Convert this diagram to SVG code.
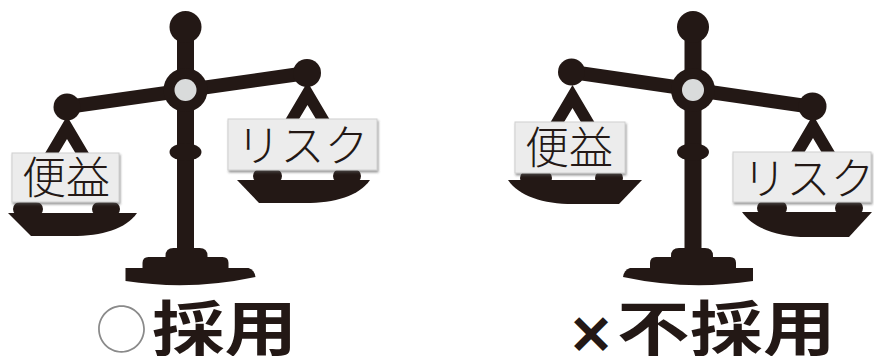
<svg xmlns="http://www.w3.org/2000/svg" width="874" height="356" viewBox="0 0 874 356">
<style>
.ink{fill:#231815}
.beam{stroke:#231815;stroke-width:14;fill:none}
.sign{fill:#ececec;stroke:#d0d0d0;stroke-width:1;filter:url(#shadow)}
.sign-text{font-family:"Noto Sans CJK JP",sans-serif;font-size:44px;font-weight:300;fill:#231815;text-anchor:middle}
.verdict{font-family:"Noto Sans CJK JP",sans-serif;font-size:60px;font-weight:700;fill:#231815}
.cross{font-size:46px;stroke:#231815;stroke-width:2.6;stroke-linejoin:miter;text-anchor:middle}
.ring{font-family:"Noto Sans CJK JP",sans-serif;font-size:52px;font-weight:300;fill:#8a8a8a;text-anchor:middle}
</style>
<defs>
  <filter id="shadow" x="-10%" y="-10%" width="130%" height="150%">
    <feDropShadow dx="1" dy="2" stdDeviation="1.2" flood-color="#555555" flood-opacity="0.6"/>
  </filter>
  <!-- post, knobs, stepped foot and pivot, drawn around x = 0 -->
  <g id="stand">
    <rect class="ink" x="-8.5" y="25" width="17" height="228"/>
    <circle class="ink" cx="0" cy="27" r="16"/>
    <ellipse class="ink" cx="0" cy="152" rx="16" ry="9"/>
    <path class="ink" d="M-20,259 V256 Q-20,248 -12,248 H14 Q22,248 22,256 V259 Z"/>
    <path class="ink" d="M-43,269 V263 Q-43,257 -37,257 H37 Q43,257 43,263 V269 Z"/>
    <path class="ink" d="M-60,268 H63 Q69,270 70,277 Q5,291 -60,281 Z"/>
    <circle class="ink" cx="0" cy="90" r="22"/>
    <circle cx="0" cy="90" r="11" fill="#d9dbdb"/>
  </g>
  <!-- A-shaped hanger; origin at the top edge of the sign it carries -->
  <path id="hanger" class="ink" fill-rule="evenodd" d="M0,-37 L-26,7 L26,7 Z M0,-14 L12.6,7 L-12.6,7 Z"/>
</defs>

<g id="scale-adopted">
  <use href="#hanger" x="67" y="153"/>
  <use href="#hanger" x="307.5" y="119"/>
  <line class="beam" x1="67" y1="107" x2="307" y2="73"/>
  <use href="#stand" x="185.5"/>
  <circle class="ink" cx="67" cy="107" r="13.5"/>
  <circle class="ink" cx="307" cy="73" r="14"/>
  <g id="pan-benefit-a">
    <rect class="ink" x="13" y="202" width="30" height="14" rx="7"/>
    <rect class="ink" x="92" y="202" width="28" height="14" rx="7"/>
    <path class="ink" d="M8,213 H137 C126,229 102,236 72,236 H31 Z"/>
    <rect class="sign" x="12" y="153" width="107" height="49"/>
    <text class="sign-text" x="66" y="194">便益</text>
  </g>
  <g id="pan-risk-a">
    <rect class="ink" x="253" y="169" width="29" height="14" rx="7"/>
    <rect class="ink" x="333" y="169" width="28" height="14" rx="7"/>
    <path class="ink" d="M237,180 H370 C359,196 335,203 305,203 H259 Z"/>
    <rect class="sign" x="228" y="119" width="149" height="51"/>
    <text class="sign-text" x="302.5" y="162">リスク</text>
  </g>
</g>

<g id="scale-rejected">
  <use href="#hanger" x="572.5" y="122"/>
  <use href="#hanger" x="813" y="152"/>
  <line class="beam" x1="572" y1="72" x2="813" y2="107"/>
  <use href="#stand" transform="translate(693,0) scale(-1,1)"/>
  <circle class="ink" cx="571.5" cy="72" r="13.5"/>
  <circle class="ink" cx="812.5" cy="106.5" r="14"/>
  <g id="pan-benefit-b">
    <rect class="ink" x="520" y="171" width="32" height="14" rx="7"/>
    <rect class="ink" x="595" y="171" width="28" height="14" rx="7"/>
    <path class="ink" d="M642,180 H508 C519,196 543,204 573,204 H619 Z"/>
    <rect class="sign" x="515" y="122" width="110" height="51"/>
    <text class="sign-text" x="569" y="164">便益</text>
  </g>
  <g id="pan-risk-b">
    <rect class="ink" x="757" y="201" width="30" height="14" rx="7"/>
    <rect class="ink" x="835" y="201" width="28" height="14" rx="7"/>
    <path class="ink" d="M872,212 H742 C753,228 777,237 807,237 H849 Z"/>
    <rect class="sign" x="733" y="152" width="138" height="50"/>
    <text class="sign-text" x="808.5" y="195">リスク</text>
  </g>
</g>

<g id="verdicts">
  <text class="ring" x="121.5" y="349">○</text>
  <text class="verdict" transform="translate(152,351) scale(1.21,1)">採用</text>
  <text class="verdict cross" x="591" y="351">×</text>
  <text class="verdict" transform="translate(0,351) scale(1.21,1)" x="509.9 570.2 630.6">不採用</text>
</g>
</svg>
